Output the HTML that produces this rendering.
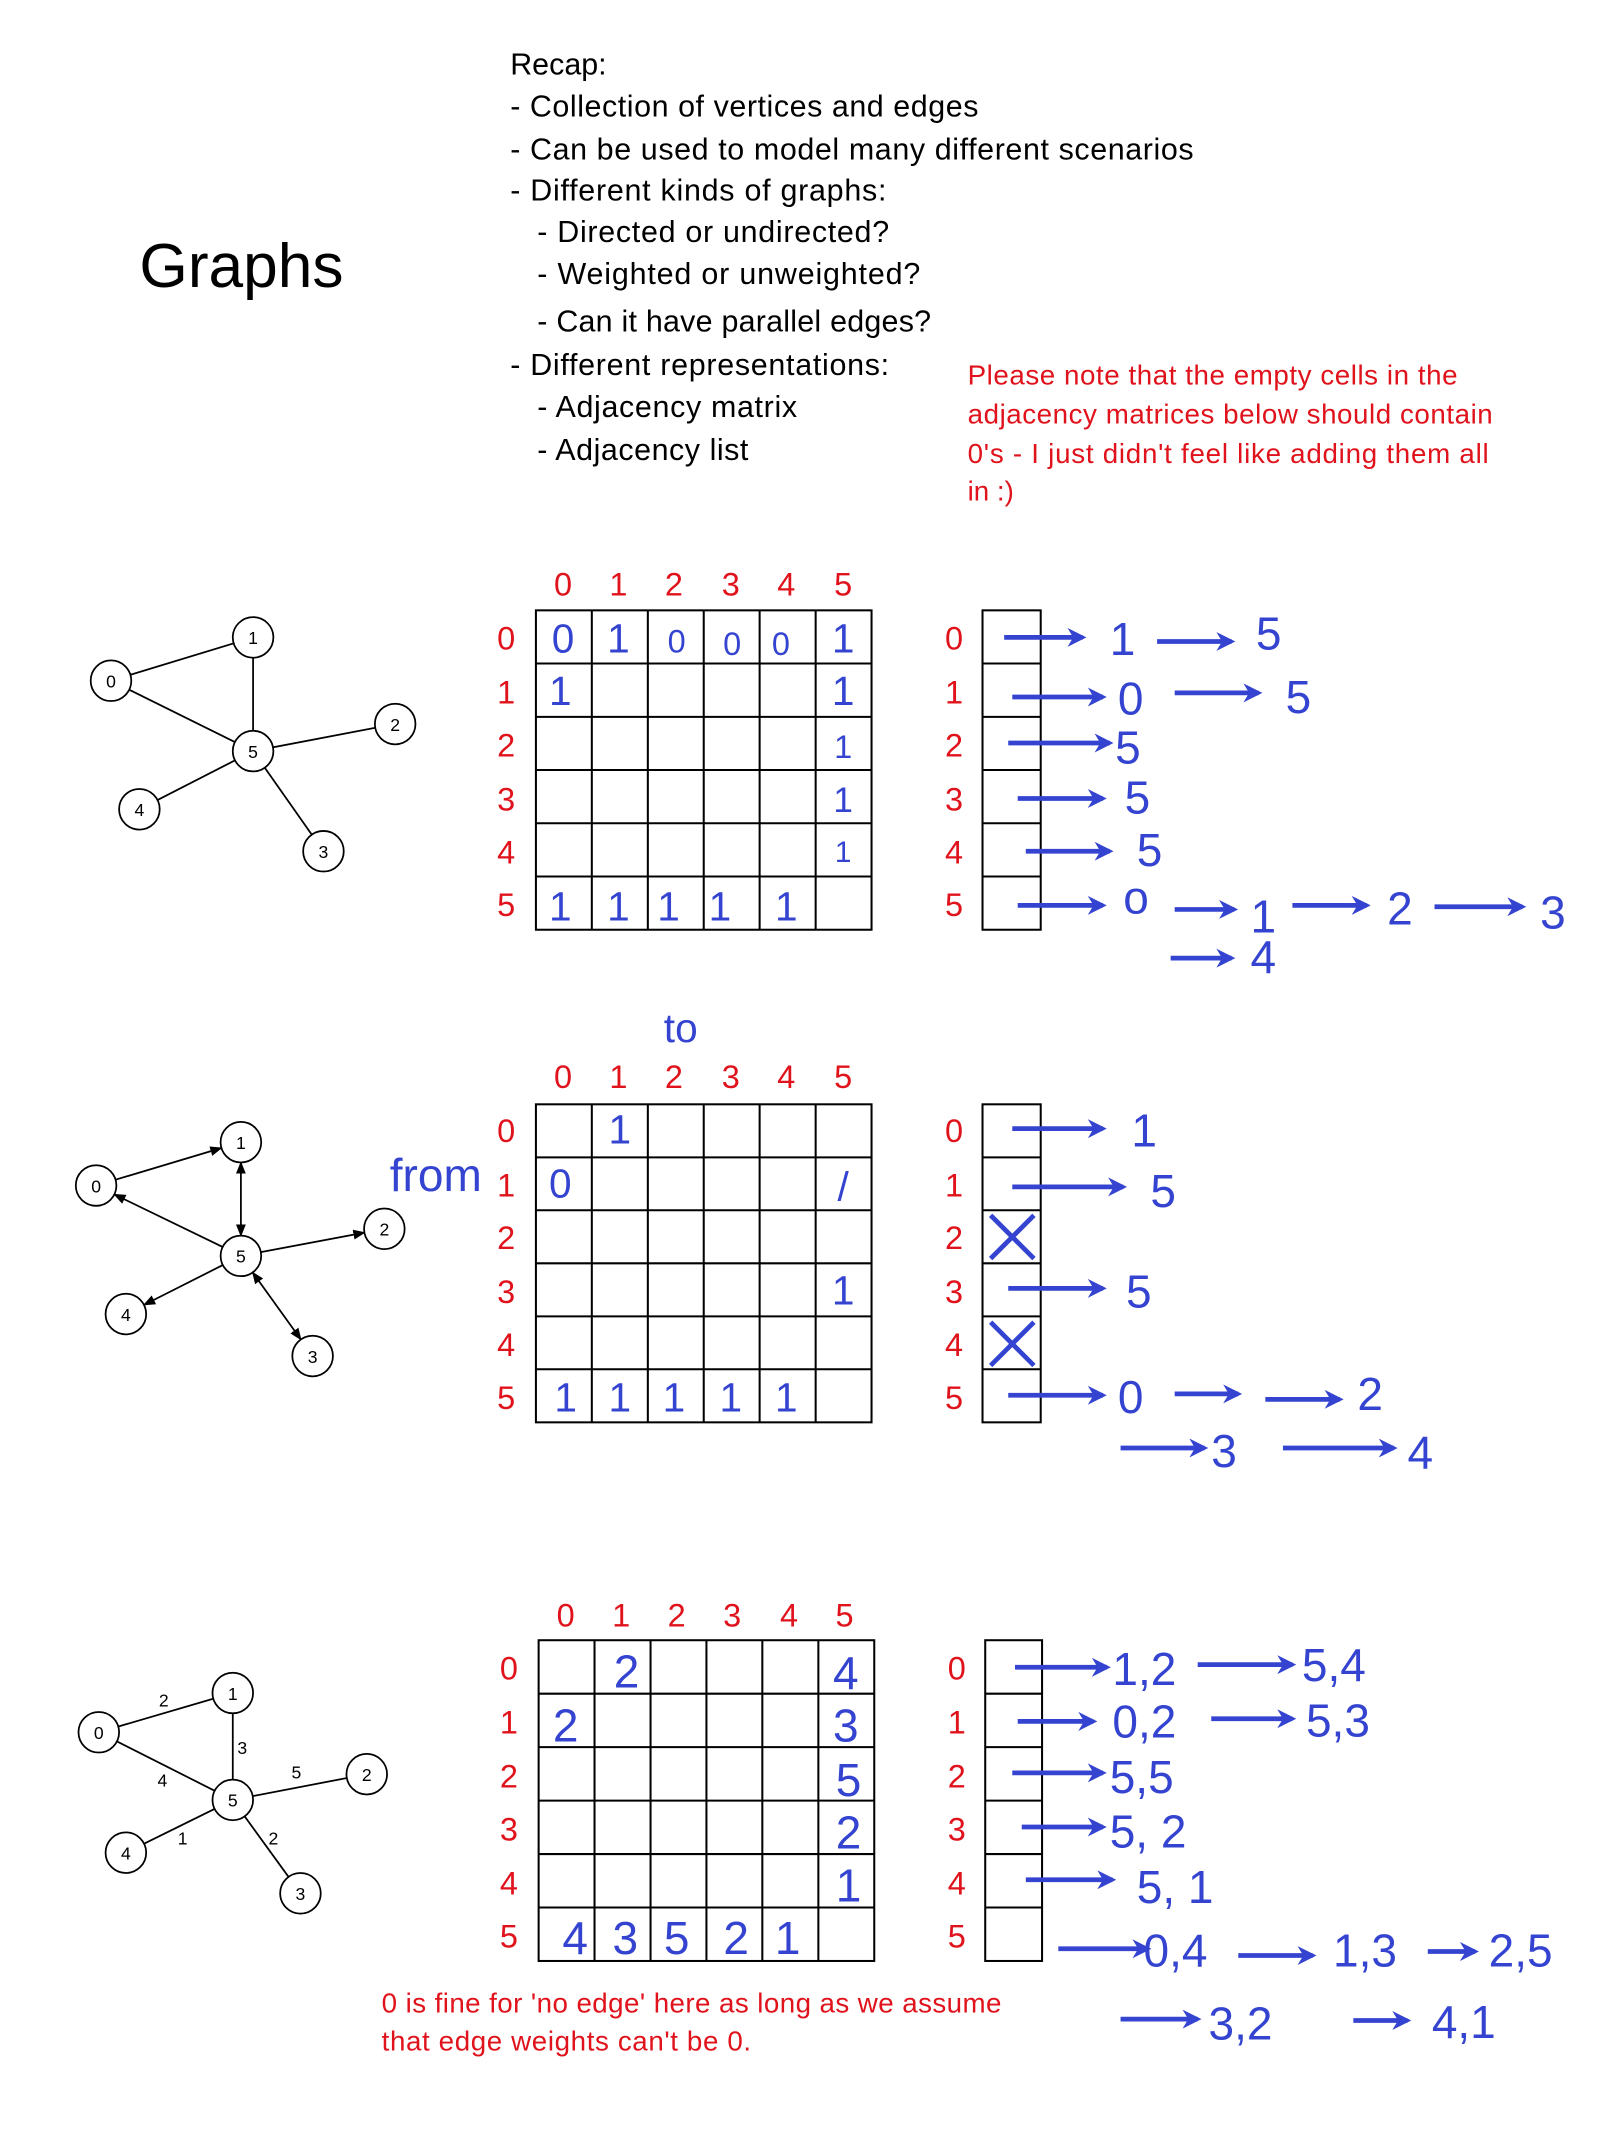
<!DOCTYPE html>
<html><head><meta charset="utf-8"><style>
html,body{margin:0;padding:0;background:#fff}
svg{display:block}
.t{font-family:"Liberation Sans",sans-serif}
.r{fill:#e0121b;font-family:"Liberation Sans",sans-serif;font-size:24px}
.rs{fill:#e0121b;font-family:"Liberation Sans",sans-serif;font-size:20.5px}
.k{fill:#000;font-family:"Liberation Sans",sans-serif;font-size:22.5px}
.h{fill:#3444d0;font-family:"Liberation Sans",sans-serif;font-size:34px}
.hm{fill:#3444d0;font-family:"Liberation Sans",sans-serif;font-size:30px;text-anchor:middle}
.ba{stroke:#3444d0;stroke-width:3.5;fill:none;marker-end:url(#bh)}
.g{stroke:#000;stroke-width:1.3;fill:none}
.n{fill:#fff;stroke:#000;stroke-width:1.3}
.nl{font-family:"Liberation Sans",sans-serif;font-size:13px;text-anchor:middle}
</style></head><body>
<svg width="1624" height="2135" viewBox="0 0 1200 1577.6" xmlns="http://www.w3.org/2000/svg">
<defs>
<marker id="bh" viewBox="0 0 10 10" refX="8" refY="5" markerWidth="4" markerHeight="4" orient="auto"><path d="M0,0 L10,5 L0,10 L3,5 z" fill="#3444d0"/></marker>
<marker id="ah" viewBox="0 0 10 10" refX="9" refY="5" markerWidth="7" markerHeight="7" orient="auto-start-reverse"><path d="M0,1 L10,5 L0,9 z" fill="#000"/></marker>
</defs>
<rect width="1200" height="1578" fill="#fff"/>
<text x="103" y="212" class="t" font-size="46">Graphs</text>
<g class="k">
<text x="377" y="55">Recap:</text>
<text x="377" y="86" textLength="346">- Collection of vertices and edges</text>
<text x="377" y="118" textLength="505">- Can be used to model many different scenarios</text>
<text x="377" y="148" textLength="278">- Different kinds of graphs:</text>
<text x="397" y="179" textLength="260">- Directed or undirected?</text>
<text x="397" y="210" textLength="283">- Weighted or unweighted?</text>
<text x="397" y="245" textLength="291">- Can it have parallel edges?</text>
<text x="377" y="277" textLength="280">- Different representations:</text>
<text x="397" y="308" textLength="192">- Adjacency matrix</text>
<text x="397" y="340" textLength="156">- Adjacency list</text>
</g>
<g class="rs">
<text x="715" y="284" textLength="362">Please note that the empty cells in the</text>
<text x="715" y="313" textLength="388">adjacency matrices below should contain</text>
<text x="715" y="342" textLength="385">0's - I just didn't feel like adding them all</text>
<text x="715" y="370">in :)</text>
<text x="282" y="1487" textLength="458">0 is fine for 'no edge' here as long as we assume</text>
<text x="282" y="1515" textLength="273">that edge weights can't be 0.</text>
</g>

<!-- Graph 1 -->
<g class="g"><line x1="82" y1="503" x2="187" y2="471"/><line x1="82" y1="503" x2="187" y2="555"/><line x1="187" y1="471" x2="187" y2="555"/><line x1="187" y1="555" x2="292" y2="535"/><line x1="187" y1="555" x2="239" y2="629"/><line x1="187" y1="555" x2="103" y2="598"/></g>
<g><circle class="n" cx="82" cy="503" r="15"/><circle class="n" cx="187" cy="471" r="15"/><circle class="n" cx="292" cy="535" r="15"/><circle class="n" cx="239" cy="629" r="15"/><circle class="n" cx="103" cy="598" r="15"/><circle class="n" cx="187" cy="555" r="15"/></g>
<g class="nl"><text x="82" y="508">0</text><text x="187" y="476">1</text><text x="292" y="540">2</text><text x="239" y="634">3</text><text x="103" y="603">4</text><text x="187" y="560">5</text></g>

<!-- Graph 2 -->
<g class="g" marker-end="url(#ah)">
<line x1="85.4" y1="871.7" x2="163.6" y2="848.3"/>
<line x1="164.5" y1="921.4" x2="84.5" y2="882.6"/>
<line x1="178" y1="859" x2="178" y2="913" marker-start="url(#ah)"/>
<line x1="192.7" y1="925.2" x2="269.3" y2="910.8"/>
<line x1="164.6" y1="934.8" x2="106.4" y2="964.2"/>
<line x1="186.7" y1="940.2" x2="222.3" y2="989.8" marker-start="url(#ah)"/>
</g>
<g><circle class="n" cx="71" cy="876" r="15"/><circle class="n" cx="178" cy="844" r="15"/><circle class="n" cx="284" cy="908" r="15"/><circle class="n" cx="231" cy="1002" r="15"/><circle class="n" cx="93" cy="971" r="15"/><circle class="n" cx="178" cy="928" r="15"/></g>
<g class="nl"><text x="71" y="881">0</text><text x="178" y="849">1</text><text x="284" y="913">2</text><text x="231" y="1007">3</text><text x="93" y="976">4</text><text x="178" y="933">5</text></g>

<!-- Graph 3 -->
<g class="g"><line x1="73" y1="1280" x2="172" y2="1251"/><line x1="73" y1="1280" x2="172" y2="1330"/><line x1="172" y1="1251" x2="172" y2="1330"/><line x1="172" y1="1330" x2="271" y2="1311"/><line x1="172" y1="1330" x2="222" y2="1399"/><line x1="172" y1="1330" x2="93" y2="1369"/></g>
<g><circle class="n" cx="73" cy="1280" r="15"/><circle class="n" cx="172" cy="1251" r="15"/><circle class="n" cx="271" cy="1311" r="15"/><circle class="n" cx="222" cy="1399" r="15"/><circle class="n" cx="93" cy="1369" r="15"/><circle class="n" cx="172" cy="1330" r="15"/></g>
<g class="nl"><text x="73" y="1285">0</text><text x="172" y="1256">1</text><text x="271" y="1316">2</text><text x="222" y="1404">3</text><text x="93" y="1374">4</text><text x="172" y="1335">5</text>
<text x="121" y="1261">2</text><text x="179" y="1296">3</text><text x="120" y="1320">4</text><text x="219" y="1314">5</text><text x="135" y="1363">1</text><text x="202" y="1363">2</text></g>

<!-- Matrices / lists -->
<g stroke="#000" stroke-width="1.5" fill="none">
<rect x="396" y="451" width="248" height="236"/>
<path d="M437.3 451V687M478.7 451V687M520 451V687M561.3 451V687M602.7 451V687M396 490.3H644M396 529.7H644M396 569H644M396 608.3H644M396 647.7H644"/>
<rect x="726" y="451" width="43" height="236"/>
<path d="M726 490.3H769M726 529.7H769M726 569H769M726 608.3H769M726 647.7H769"/>
<rect x="396" y="816" width="248" height="235"/>
<path d="M437.3 816V1051M478.7 816V1051M520 816V1051M561.3 816V1051M602.7 816V1051M396 855.2H644M396 894.3H644M396 933.5H644M396 972.7H644M396 1011.8H644"/>
<rect x="726" y="816" width="43" height="235"/>
<path d="M726 855.2H769M726 894.3H769M726 933.5H769M726 972.7H769M726 1011.8H769"/>
<rect x="398" y="1212" width="248" height="237"/>
<path d="M439.3 1212V1449M480.7 1212V1449M522 1212V1449M563.3 1212V1449M604.7 1212V1449M398 1251.5H646M398 1291H646M398 1330.5H646M398 1370H646M398 1409.5H646"/>
<rect x="728" y="1212" width="42" height="237"/>
<path d="M728 1251.5H770M728 1291H770M728 1330.5H770M728 1370H770M728 1409.5H770"/>
</g>
<g class="r" text-anchor="middle">
<text x="416" y="440">0</text><text x="457" y="440">1</text><text x="498" y="440">2</text><text x="540" y="440">3</text><text x="581" y="440">4</text><text x="623" y="440">5</text>
<text x="374" y="480">0</text><text x="374" y="520">1</text><text x="374" y="559">2</text><text x="374" y="599">3</text><text x="374" y="638">4</text><text x="374" y="677">5</text>
<text x="705" y="480">0</text><text x="705" y="520">1</text><text x="705" y="559">2</text><text x="705" y="599">3</text><text x="705" y="638">4</text><text x="705" y="677">5</text>
<text x="416" y="804">0</text><text x="457" y="804">1</text><text x="498" y="804">2</text><text x="540" y="804">3</text><text x="581" y="804">4</text><text x="623" y="804">5</text>
<text x="374" y="844">0</text><text x="374" y="884">1</text><text x="374" y="923">2</text><text x="374" y="963">3</text><text x="374" y="1002">4</text><text x="374" y="1041">5</text>
<text x="705" y="844">0</text><text x="705" y="884">1</text><text x="705" y="923">2</text><text x="705" y="963">3</text><text x="705" y="1002">4</text><text x="705" y="1041">5</text>
<text x="418" y="1202">0</text><text x="459" y="1202">1</text><text x="500" y="1202">2</text><text x="541" y="1202">3</text><text x="583" y="1202">4</text><text x="624" y="1202">5</text>
<text x="376" y="1241">0</text><text x="376" y="1281">1</text><text x="376" y="1321">2</text><text x="376" y="1360">3</text><text x="376" y="1400">4</text><text x="376" y="1439">5</text>
<text x="707" y="1241">0</text><text x="707" y="1281">1</text><text x="707" y="1321">2</text><text x="707" y="1360">3</text><text x="707" y="1400">4</text><text x="707" y="1439">5</text>
</g>

<g class="hm">
<text x="416" y="482">0</text><text x="457" y="482">1</text><text x="500" y="482" font-size="24">0</text><text x="541" y="484" font-size="24">0</text><text x="577" y="484" font-size="24">0</text><text x="623" y="482">1</text>
<text x="414" y="521">1</text><text x="623" y="521">1</text><text x="623" y="560" font-size="24">1</text><text x="623" y="600" font-size="26">1</text><text x="623" y="637" font-size="22">1</text>
<text x="414" y="680">1</text><text x="457" y="680">1</text><text x="494" y="680">1</text><text x="532" y="680">1</text><text x="581" y="680">1</text>
</g>
<text x="503" y="770" class="hm" font-size="34">to</text>
<text x="288" y="880" class="h" font-size="34">from</text>
<g class="hm">
<text x="458" y="845">1</text><text x="414" y="885">0</text><text x="623" y="887">/</text><text x="623" y="964">1</text>
<text x="418" y="1043">1</text><text x="458" y="1043">1</text><text x="498" y="1043">1</text><text x="540" y="1043">1</text><text x="581" y="1043">1</text>
</g>
<g class="hm">
<text x="463" y="1247" font-size="34">2</text><text x="625" y="1248" font-size="34">4</text>
<text x="418" y="1287" font-size="34">2</text><text x="625" y="1287" font-size="34">3</text>
<text x="627" y="1327" font-size="34">5</text><text x="627" y="1366" font-size="34">2</text><text x="627" y="1405" font-size="34">1</text>
<text x="425" y="1444" font-size="34">4</text><text x="462" y="1444" font-size="34">3</text><text x="500" y="1444" font-size="34">5</text><text x="544" y="1444" font-size="34">2</text><text x="582" y="1444" font-size="34">1</text>
</g>

<g>
<path class="ba" d="M742 471H800"/><text x="820" y="484" class="h">1</text><path class="ba" d="M855 474H910"/><text x="928" y="480" class="h">5</text>
<path class="ba" d="M748 515H815"/><text x="826" y="528" class="h">0</text><path class="ba" d="M868 512H930"/><text x="950" y="527" class="h">5</text>
<path class="ba" d="M745 549H820"/><text x="824" y="564" class="h">5</text>
<path class="ba" d="M752 590H815"/><text x="831" y="601" class="h">5</text>
<path class="ba" d="M758 629H820"/><text x="840" y="640" class="h">5</text>
<path class="ba" d="M752 669H815"/><text x="830" y="675" class="h" font-size="20">o</text><path class="ba" d="M868 672H912"/><text x="924" y="689" class="h">1</text><path class="ba" d="M955 669H1010"/><text x="1025" y="683" class="h">2</text><path class="ba" d="M1060 670H1125"/><text x="1138" y="686" class="h">3</text>
<path class="ba" d="M865 708H910"/><text x="924" y="719" class="h">4</text>
</g>
<g>
<path class="ba" d="M748 834H815"/><text x="836" y="847" class="h">1</text>
<path class="ba" d="M748 877H830"/><text x="850" y="892" class="h">5</text>
<path d="M732 898L764 930M764 898L732 930M732 977L764 1009M764 977L732 1009" stroke="#3444d0" stroke-width="3.5"/>
<path class="ba" d="M745 952H815"/><text x="832" y="966" class="h">5</text>
<path class="ba" d="M745 1031H815"/><text x="826" y="1044" class="h">0</text><path class="ba" d="M868 1030H915"/><path class="ba" d="M935 1034H990"/><text x="1003" y="1042" class="h">2</text>
<path class="ba" d="M828 1070H890"/><text x="895" y="1084" class="h">3</text><path class="ba" d="M948 1070H1030"/><text x="1040" y="1085" class="h">4</text>
</g>
<g>
<path class="ba" d="M750 1232H818"/><text x="822" y="1245" class="h">1,2</text><path class="ba" d="M885 1230H955"/><text x="962" y="1242" class="h">5,4</text>
<path class="ba" d="M752 1272H808"/><text x="822" y="1284" class="h">0,2</text><path class="ba" d="M895 1270H955"/><text x="965" y="1283" class="h">5,3</text>
<path class="ba" d="M748 1310H815"/><text x="820" y="1325" class="h">5,5</text>
<path class="ba" d="M755 1350H815"/><text x="820" y="1365" class="h">5, 2</text>
<path class="ba" d="M758 1389H822"/><text x="840" y="1406" class="h">5, 1</text>
<path class="ba" d="M782 1440H848"/><text x="845" y="1453" class="h">0,4</text><path class="ba" d="M915 1445H970"/><text x="985" y="1453" class="h">1,3</text><path class="ba" d="M1055 1442H1090"/><text x="1100" y="1453" class="h">2,5</text>
<path class="ba" d="M828 1492H885"/><text x="893" y="1507" class="h">3,2</text><path class="ba" d="M1000 1493H1040"/><text x="1058" y="1506" class="h">4,1</text>
</g>
</svg>
</body></html>
